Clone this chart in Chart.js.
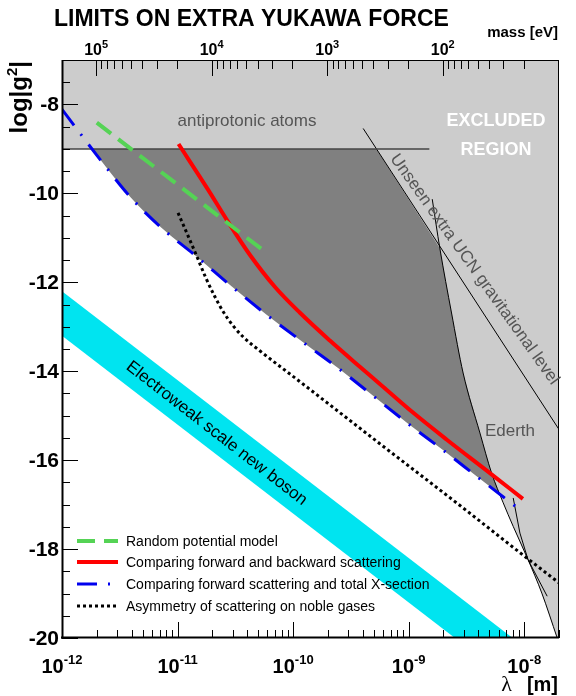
<!DOCTYPE html>
<html>
<head>
<meta charset="utf-8">
<title>Limits on extra Yukawa force</title>
<script src="https://cdn.jsdelivr.net/npm/chart.js@4/dist/chart.umd.min.js"></script>
<style>
  html, body { margin: 0; padding: 0; background: #fff; }
  #wrap { width: 576px; height: 696px; }
</style>
</head>
<body>
<div id="wrap"><canvas id="yukawa"></canvas></div>
<script>
// lambda in metres, log|g^2|
var randomLam = [2.0e-12, 5.9e-11];
var randomG   = [-8.41, -11.34];

var fwdBackLam = [1.02e-11, 1.83e-11, 2.72e-11, 4.22e-11, 6.94e-11, 1.14e-10, 2.08e-10, 3.78e-10, 5.83e-10, 1.09e-9, 2.14e-9, 5.05e-9, 9.74e-9];
var fwdBackG   = [-8.89, -9.91, -10.63, -11.38, -12.10, -12.68, -13.31, -13.90, -14.32, -14.93, -15.54, -16.29, -16.87];

var totalXLam = [1.0e-12, 2.2e-12, 3.9e-12, 7.3e-12, 1.46e-11, 2.93e-11, 5.9e-11, 1.22e-10, 2.45e-10, 9.9e-10, 2.02e-9, 4.13e-9, 8.43e-9];
var totalXG   = [-8.11, -9.28, -10.08, -10.78, -11.42, -12.09, -12.73, -13.35, -13.93, -15.18, -15.79, -16.42, -17.04];

var nobleLam = [1.01e-11, 1.23e-11, 1.47e-11, 1.75e-11, 2.10e-11, 2.51e-11, 3.01e-11, 3.67e-11, 5.15e-11, 1.14e-10, 5.63e-10, 2.78e-9, 9.18e-9, 2.0e-8];
var nobleG   = [-10.44, -10.95, -11.42, -11.89, -12.32, -12.68, -12.97, -13.22, -13.54, -14.23, -15.63, -17.02, -18.08, -18.76];

var antiprotonLam = [1.0e-12, 1.51e-9];
var antiprotonG   = [-9, -9];

var ucnLam = [4.04e-10, 2.0e-8];
var ucnG   = [-8.54, -15.31];

var ederthLam = [1.60e-9, 1.86e-9, 2.35e-9, 2.96e-9, 4.14e-9, 5.22e-9, 6.58e-9, 8.03e-9, 1.08e-8, 1.42e-8, 1.93e-8];
var ederthG   = [-10.13, -11.23, -12.69, -14.04, -15.39, -16.29, -16.96, -17.49, -18.24, -18.99, -20.0];

var casimirLam = [8.03e-9, 9.18e-9, 1.08e-8, 1.58e-8];
var casimirG   = [-16.85, -17.64, -18.24, -19.06];

var ewLam   = [1.0e-12, 1.0e-8];
var ewHighG = [-12.2, -20.2];
var ewLowG  = [-13.2, -21.2];

// upper edge of the dark band (antiprotonic, UCN, Ederth) down to where it meets the blue curve
var darkLam = [1.82e-12, 5.26e-10, 1.86e-9, 2.35e-9, 2.96e-9, 4.14e-9, 5.22e-9, 6.14e-9];
var darkG   = [-9, -9, -11.23, -12.69, -14.04, -15.39, -16.29, -16.76];

// edge of the light excluded region
var excludedLam = [1.0e-12, 5.26e-10, 1.86e-9, 2.35e-9, 2.96e-9, 4.14e-9, 5.22e-9, 6.58e-9, 8.03e-9, 1.08e-8, 1.42e-8, 1.93e-8, 2.0e-8];
var excludedG   = [-9, -9, -11.23, -12.69, -14.04, -15.39, -16.29, -16.96, -17.49, -18.24, -18.99, -20.0, -20.0];

var lamTicks  = [1e-12, 1e-11, 1e-10, 1e-9, 1e-8];
var lamExp    = ['-12', '-11', '-10', '-9', '-8'];
var massTicks = [1e5, 1e4, 1e3, 1e2];
var massExp   = ['5', '4', '3', '2'];
var gTicks    = [-20, -18, -16, -14, -12, -10, -8];

var HBARC = 1.9733e-7; // eV m
var FONT = "'Liberation Sans', Arial, Helvetica, sans-serif";

function pts(xs, ys){
  return xs.map(function(x, i){ return {x: x, y: ys[i]}; });
}

function line(label, xs, ys, color, width, dash, extra){
  var ds = {
    label: label,
    data: pts(xs, ys),
    borderColor: color,
    backgroundColor: color,
    borderWidth: width,
    borderDash: dash || [],
    pointRadius: 0,
    fill: false,
    tension: 0
  };
  for (var k in extra) ds[k] = extra[k];
  return ds;
}

function powLabel(ctx, exp, cx, by, size, esize, rise){
  ctx.font = 'bold ' + size + 'px ' + FONT;
  var w1 = ctx.measureText('10').width;
  ctx.font = 'bold ' + esize + 'px ' + FONT;
  var w2 = ctx.measureText(exp).width;
  var x0 = cx - (w1 + w2) / 2;
  ctx.textAlign = 'left';
  ctx.textBaseline = 'alphabetic';
  ctx.font = 'bold ' + size + 'px ' + FONT;
  ctx.fillText('10', x0, by);
  ctx.font = 'bold ' + esize + 'px ' + FONT;
  ctx.fillText(exp, x0 + w1, by - rise);
}

function tick(ctx, x1, y1, x2, y2){
  ctx.beginPath();
  ctx.moveTo(x1, y1);
  ctx.lineTo(x2, y2);
  ctx.stroke();
}

var decor = {
  id: 'decor',
  beforeDraw: function(chart){
    var ctx = chart.ctx;
    ctx.save();
    ctx.fillStyle = '#fff';
    ctx.fillRect(0, 0, chart.width, chart.height);
    ctx.restore();
  },
  afterDatasetsDraw: function(chart){
    var ctx = chart.ctx, a = chart.chartArea;
    var xs = chart.scales.x, ys = chart.scales.y;
    function px(l){ return xs.getPixelForValue(l); }
    function py(g){ return ys.getPixelForValue(g); }

    ctx.save();
    ctx.strokeStyle = '#000';
    ctx.fillStyle = '#000';
    ctx.lineWidth = 1;

    // y ticks, inside
    for (var g = -20; g <= -7.0001; g += 0.5) {
      var yy = Math.round(py(g)) + 0.5;
      var major = Math.abs(g % 2) < 1e-6;
      tick(ctx, a.left, yy, a.left + (major ? 16 : 8), yy);
    }
    // lambda ticks at the bottom, inside
    for (var n = -12; n <= -8; n++) {
      for (var k = 1; k <= 9; k++) {
        var l = k * Math.pow(10, n);
        if (l > xs.max) continue;
        var xx = Math.round(px(l)) + 0.5;
        tick(ctx, xx, a.bottom, xx, a.bottom - (k === 1 ? 16 : 8));
      }
    }
    // mass ticks on top, inside
    for (var e = 1; e <= 5; e++) {
      for (var j = 1; j <= 9; j++) {
        var lm = HBARC / (j * Math.pow(10, e));
        if (lm < xs.min || lm > xs.max) continue;
        var xm = Math.round(px(lm)) + 0.5;
        tick(ctx, xm, a.top, xm, a.top + (j === 1 ? 16 : 9));
      }
    }

    // frame
    ctx.strokeRect(a.left + 0.5, a.top + 0.5, a.right - a.left - 1, a.bottom - a.top - 1);
    ctx.lineWidth = 2;
    tick(ctx, a.left + 0.5, a.top, a.left + 0.5, a.bottom + 1);
    tick(ctx, a.left - 1, a.bottom - 0.5, a.right, a.bottom - 0.5);

    // tick labels
    ctx.textAlign = 'right';
    ctx.textBaseline = 'middle';
    ctx.font = 'bold 21px ' + FONT;
    gTicks.forEach(function(v){
      ctx.fillText(String(v), a.left - 3, py(v) + 1);
    });
    lamTicks.forEach(function(l, i){
      powLabel(ctx, lamExp[i], px(l), 673, 20, 13, 9);
    });
    massTicks.forEach(function(m, i){
      powLabel(ctx, massExp[i], px(HBARC / m), 55, 16, 11, 7);
    });

    // titles
    ctx.textAlign = 'left';
    ctx.textBaseline = 'alphabetic';
    ctx.font = 'bold 23px ' + FONT;
    ctx.fillText('LIMITS ON EXTRA YUKAWA FORCE', 54, 26);
    ctx.textAlign = 'right';
    ctx.font = 'bold 15px ' + FONT;
    ctx.fillText('mass [eV]', 558, 37);
    ctx.font = 'bold 20px ' + FONT;
    ctx.fillText('[m]', 558, 691);
    ctx.font = "22px 'Liberation Serif', 'DejaVu Serif', serif";
    ctx.fillText('\u03bb', 512, 691);

    // y title, rotated
    ctx.save();
    ctx.translate(27, 61);
    ctx.rotate(-Math.PI / 2);
    ctx.textAlign = 'left';
    ctx.font = 'bold 24px ' + FONT;
    var wA = ctx.measureText('log|g').width;
    var wC = ctx.measureText('|').width;
    ctx.font = 'bold 15px ' + FONT;
    var wB = ctx.measureText('2').width;
    var x0 = -(wA + wB + wC);
    ctx.font = 'bold 24px ' + FONT;
    ctx.fillText('log|g', x0, 0);
    ctx.fillText('|', x0 + wA + wB, 0);
    ctx.font = 'bold 15px ' + FONT;
    ctx.fillText('2', x0 + wA, -10);
    ctx.restore();

    // annotations in the plot
    ctx.fillStyle = '#555';
    ctx.font = '17px ' + FONT;
    ctx.textAlign = 'left';
    ctx.textBaseline = 'middle';
    ctx.fillText('antiprotonic atoms', px(1.0e-11), py(-8.38));
    ctx.fillText('Ederth', px(4.57e-9), py(-15.35));

    ctx.save();
    ctx.translate(px(3.72e-9), py(-11.71));
    ctx.rotate(54.5 * Math.PI / 180);
    ctx.textAlign = 'center';
    ctx.fillText('Unseen extra UCN gravitational level', 0, 0);
    ctx.restore();

    ctx.save();
    ctx.fillStyle = '#000';
    ctx.translate(px(2.18e-11), py(-15.40));
    ctx.rotate(37.8 * Math.PI / 180);
    ctx.textAlign = 'center';
    ctx.fillText('Electroweak scale new boson', 0, 0);
    ctx.restore();

    ctx.fillStyle = '#fff';
    ctx.font = 'bold 18px ' + FONT;
    ctx.textAlign = 'center';
    ctx.fillText('EXCLUDED', px(5.7e-9), py(-8.37));
    ctx.fillText('REGION', px(5.7e-9), py(-9.03));

    // legend, no frame
    var rows = [541, 562, 584, 606];
    ctx.textAlign = 'left';
    ctx.textBaseline = 'middle';
    ctx.font = '14px ' + FONT;
    for (var r = 0; r < 4; r++) {
      var ds = chart.data.datasets[r];
      ctx.save();
      ctx.strokeStyle = ds.borderColor;
      ctx.lineWidth = ds.borderWidth;
      ctx.setLineDash(ds.borderDash);
      tick(ctx, 77, rows[r], 118, rows[r]);
      ctx.restore();
      ctx.fillStyle = '#000';
      ctx.fillText(ds.label, 126, rows[r] + 1);
    }
    ctx.restore();
  }
};

var ctx = document.getElementById('yukawa');
var chart = new Chart(ctx, {
  type: 'line',
  data: {
    datasets: [
      line('Random potential model', randomLam, randomG, '#55d355', 4, [18, 9]),
      line('Comparing forward and backward scattering', fwdBackLam, fwdBackG, '#ff0000', 4, [], {cubicInterpolationMode: 'monotone'}),
      line('Comparing forward scattering and total X-section', totalXLam, totalXG, '#0000ee', 3, [20, 11, 2, 11], {cubicInterpolationMode: 'monotone'}),
      line('Asymmetry of scattering on noble gases', nobleLam, nobleG, '#000000', 3, [3, 3], {cubicInterpolationMode: 'monotone'}),
      line('antiprotonic atoms', antiprotonLam, antiprotonG, '#444444', 1.5),
      line('UCN', ucnLam, ucnG, '#000000', 1),
      line('Ederth', ederthLam, ederthG, '#000000', 1, [], {cubicInterpolationMode: 'monotone'}),
      line('Casimir', casimirLam, casimirG, '#000000', 1),
      line('electroweak high', ewLam, ewHighG, 'rgba(0,0,0,0)', 0, [], {backgroundColor: '#00e4f0', fill: '+1'}),
      line('electroweak low', ewLam, ewLowG, 'rgba(0,0,0,0)', 0),
      line('dark', darkLam, darkG, 'rgba(0,0,0,0)', 0, [], {backgroundColor: '#808080', fill: 2}),
      line('excluded', excludedLam, excludedG, 'rgba(0,0,0,0)', 0, [], {backgroundColor: '#cccccc', fill: 'end'})
    ]
  },
  options: {
    responsive: true,
    maintainAspectRatio: false,
    animation: false,
    layout: { padding: { left: 62, top: 60, right: 17, bottom: 58 } },
    scales: {
      x: { type: 'logarithmic', min: 1e-12, max: 2e-8, display: false },
      y: { type: 'linear', min: -20, max: -7, display: false }
    },
    plugins: {
      legend: { display: false },
      tooltip: { enabled: false },
      filler: { drawTime: 'beforeDatasetsDraw' }
    }
  },
  plugins: [decor]
});
</script>
</body>
</html>
